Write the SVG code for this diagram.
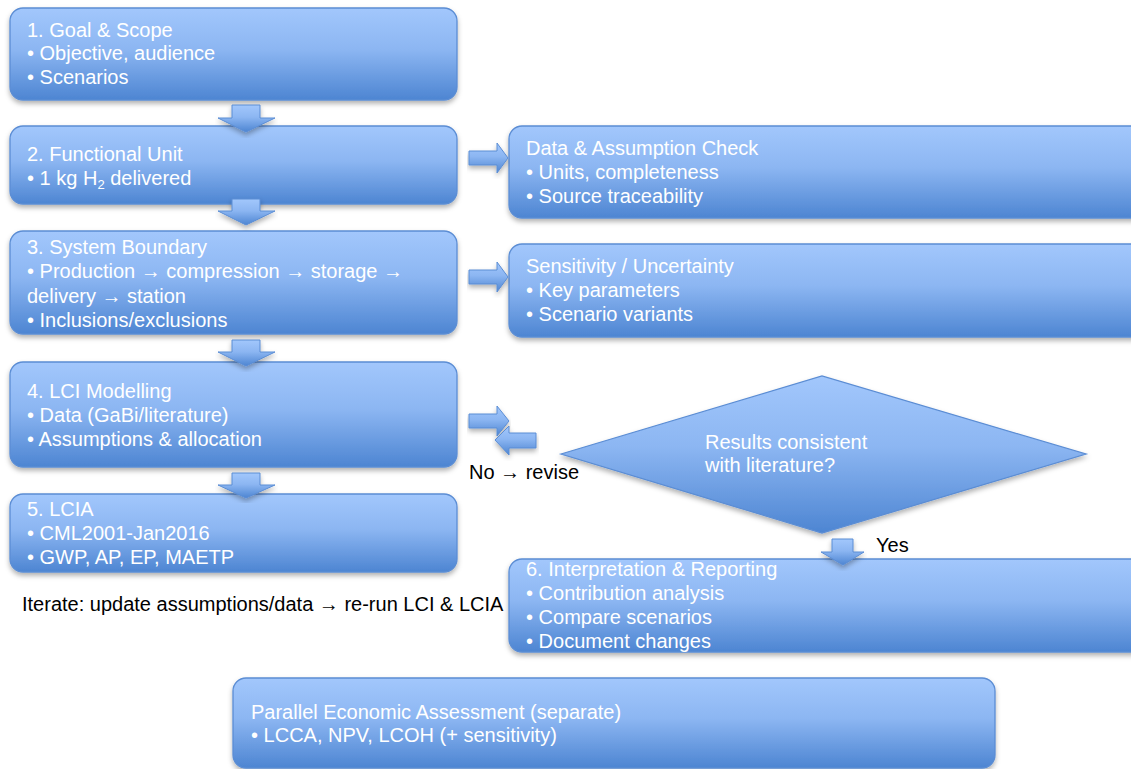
<svg xmlns="http://www.w3.org/2000/svg" width="1131" height="769" viewBox="0 0 1131 769">
<defs>
<linearGradient id="g" x1="0" y1="0" x2="0" y2="1">
<stop offset="0" stop-color="#a2c7fc"/>
<stop offset="0.45" stop-color="#8cb6f2"/>
<stop offset="1" stop-color="#4d85d2"/>
</linearGradient>
<filter id="sh" x="-5%" y="-10%" width="110%" height="130%">
<feDropShadow dx="0" dy="3" stdDeviation="2.5" flood-color="#000" flood-opacity="0.3"/>
</filter>
<style>
.n{fill:url(#g);stroke:#5b8dd4;stroke-width:1.3;filter:url(#sh)}
.a{fill:url(#g);stroke:#5b8dd4;stroke-width:1;filter:url(#sh)}
text{font-family:"Liberation Sans",Arial,sans-serif;font-size:20px}
.w{fill:#ffffff}
.k{fill:#000000}
</style>
</defs>
<rect width="1131" height="769" fill="#ffffff"/>
<g id="n1"><rect class="n" x="10" y="8" width="447" height="92" rx="13"/>
<text class="w" x="27" y="37">1. Goal &amp; Scope</text><text class="w" x="27" y="60">• Objective, audience</text><text class="w" x="27" y="84">• Scenarios</text></g>
<g id="n2"><rect class="n" x="10" y="126" width="447" height="78" rx="13"/>
<text class="w" x="27" y="161">2. Functional Unit</text><text class="w" x="27" y="185">• 1 kg H<tspan font-size="13" dy="4">2</tspan><tspan dy="-4"> delivered</tspan></text></g>
<g id="n3"><rect class="n" x="10" y="231" width="447" height="103" rx="13"/>
<text class="w" x="27" y="254">3. System Boundary</text><text class="w" x="27" y="278">• Production → compression → storage →</text><text class="w" x="27" y="303">delivery → station</text><text class="w" x="27" y="327">• Inclusions/exclusions</text></g>
<g id="n4"><rect class="n" x="10" y="362" width="447" height="105" rx="13"/>
<text class="w" x="27" y="398">4. LCI Modelling</text><text class="w" x="27" y="422">• Data (GaBi/literature)</text><text class="w" x="27" y="446">• Assumptions &amp; allocation</text></g>
<g id="n5"><rect class="n" x="10" y="494" width="447" height="78" rx="13"/>
<text class="w" x="27" y="516">5. LCIA</text><text class="w" x="27" y="540">• CML2001-Jan2016</text><text class="w" x="27" y="564">• GWP, AP, EP, MAETP</text></g>
<g id="check"><rect class="n" x="509" y="126" width="640" height="92" rx="13"/>
<text class="w" x="526" y="155">Data &amp; Assumption Check</text><text class="w" x="526" y="179">• Units, completeness</text><text class="w" x="526" y="203">• Source traceability</text></g>
<g id="sens"><rect class="n" x="509" y="244" width="640" height="93" rx="13"/>
<text class="w" x="526" y="273">Sensitivity / Uncertainty</text><text class="w" x="526" y="297">• Key parameters</text><text class="w" x="526" y="321">• Scenario variants</text></g>
<g id="decision"><polygon class="n" points="561,454 822,376 1086,454 822,533"/>
<text class="w" x="705" y="449">Results consistent</text><text class="w" x="705" y="472">with literature?</text></g>
<g id="n6"><rect class="n" x="509" y="559" width="640" height="93" rx="13"/>
<text class="w" x="526" y="576">6. Interpretation &amp; Reporting</text><text class="w" x="526" y="600">• Contribution analysis</text><text class="w" x="526" y="624">• Compare scenarios</text><text class="w" x="526" y="648">• Document changes</text></g>
<g id="econ"><rect class="n" x="233" y="678" width="762" height="90" rx="13"/>
<text class="w" x="251" y="719">Parallel Economic Assessment (separate)</text><text class="w" x="251" y="742">• LCCA, NPV, LCOH (+ sensitivity)</text></g>
<g id="connectors">
<polygon class="a" points="232,105 260,105 260,118 275,118 246,132 218,118 232,118"/>
<polygon class="a" points="232,199 260,199 260,211 275,211 246,225 218,211 232,211"/>
<polygon class="a" points="232,340 260,340 260,352 275,352 246,366 218,352 232,352"/>
<polygon class="a" points="232,473 260,473 260,485 275,485 246,498 218,485 232,485"/>
<polygon class="a" points="469,151 497,151 497,143 508,158 497,173 497,165 469,165"/>
<polygon class="a" points="469,270 497,270 497,262 508,277 497,292 497,284 469,284"/>
<polygon class="a" points="469,414 497,414 497,406 509,421 497,436 497,428 469,428"/>
<polygon class="a" points="536,433 509,433 509,426 495,440 509,455 509,448 536,448"/>
<polygon class="a" points="832,539 853,539 853,552 864,552 843,565 821,552 832,552"/>
<text class="k" x="469" y="479">No → revise</text>
<text class="k" x="876" y="552">Yes</text>
</g>
<text class="k" x="22" y="611">Iterate: update assumptions/data → re-run LCI &amp; LCIA</text>
</svg>
